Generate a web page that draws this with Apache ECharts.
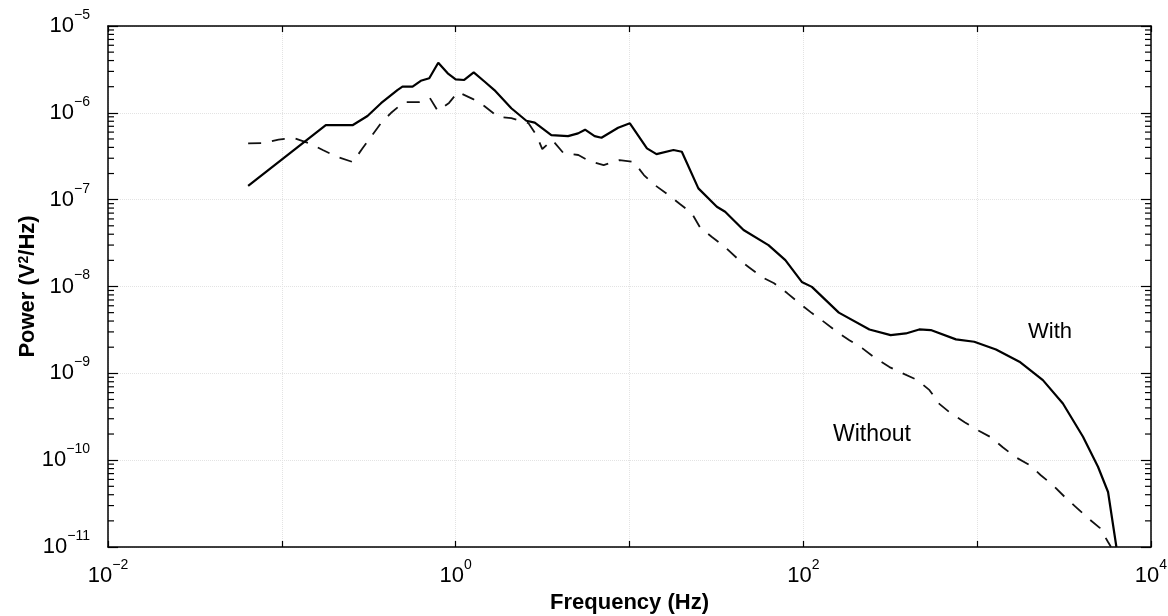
<!DOCTYPE html>
<html><head><meta charset="utf-8">
<script src="https://cdn.jsdelivr.net/npm/echarts@6/dist/echarts.min.js"></script>
<style>html,body{margin:0;padding:0;background:#fff}#c{width:1168px;height:616px}</style>
</head><body><div id="c"></div>
<script>
// ---- data ----
const freqWith = [0.064, 0.179, 0.255, 0.311, 0.372, 0.462, 0.494, 0.565, 0.63, 0.705, 0.794, 0.90, 1.0, 1.12, 1.27, 1.47, 1.67, 2.09, 2.55, 2.85, 3.55, 4.43, 5.06, 5.55, 6.3, 6.9, 8.6, 10.05, 12.6, 14.3, 17.9, 20, 24.9, 31.8, 35.5, 45.3, 63, 78.8, 98, 112, 160, 240, 318, 389, 464, 541, 755, 962, 1283, 1750, 2388, 3113, 4063, 4955, 5662, 6324];
const powWith = [1.44e-7, 7.2e-7, 7.2e-7, 9.2e-7, 1.29e-6, 1.83e-6, 2.0e-6, 2.0e-6, 2.34e-6, 2.5e-6, 3.78e-6, 2.85e-6, 2.43e-6, 2.39e-6, 2.92e-6, 2.28e-6, 1.83e-6, 1.13e-6, 8.1e-7, 7.7e-7, 5.55e-7, 5.4e-7, 5.8e-7, 6.4e-7, 5.4e-7, 5.17e-7, 6.74e-7, 7.57e-7, 3.9e-7, 3.35e-7, 3.73e-7, 3.56e-7, 1.35e-7, 8.3e-8, 7.26e-8, 4.47e-8, 3.0e-8, 2.01e-8, 1.13e-8, 9.9e-9, 5.0e-9, 3.2e-9, 2.75e-9, 2.88e-9, 3.2e-9, 3.15e-9, 2.46e-9, 2.31e-9, 1.88e-9, 1.36e-9, 8.35e-10, 4.5e-10, 1.86e-10, 8.4e-11, 4.3e-11, 1.0e-11];
const freqWithout = [0.064, 0.0775, 0.0957, 0.117, 0.1426, 0.172, 0.2094, 0.256, 0.292, 0.325, 0.372, 0.424, 0.504, 0.615, 0.711, 0.79, 0.916, 1.03, 1.26, 1.46, 1.76, 2.09, 2.62, 2.91, 3.15, 3.6, 4.17, 5.08, 5.89, 7.1, 8.77, 10.6, 12.1, 14.0, 16.8, 19.5, 22.8, 25.4, 29.8, 34.9, 41.5, 48.6, 57.8, 67.9, 80.7, 94.6, 112, 132, 157, 184, 218, 259, 313, 372, 454, 532, 608, 703, 847, 1007, 1197, 1403, 1667, 2009, 2323, 2729, 3199, 3700, 4345, 5093, 5662, 5890];
const powWithout = [4.45e-7, 4.49e-7, 4.92e-7, 5.13e-7, 4.49e-7, 3.73e-7, 3.1e-7, 2.71e-7, 3.93e-7, 5.26e-7, 7.63e-7, 9.95e-7, 1.33e-6, 1.33e-6, 1.48e-6, 1.05e-6, 1.3e-6, 1.74e-6, 1.44e-6, 1.2e-6, 8.95e-7, 8.7e-7, 7.63e-7, 5.55e-7, 3.83e-7, 4.86e-7, 3.44e-7, 3.27e-7, 2.78e-7, 2.5e-7, 2.86e-7, 2.71e-7, 1.92e-7, 1.47e-7, 1.13e-7, 8.9e-8, 7.0e-8, 4.83e-8, 3.71e-8, 2.92e-8, 2.12e-8, 1.67e-8, 1.28e-8, 1.09e-8, 8.4e-9, 6.44e-9, 4.94e-9, 3.89e-9, 2.98e-9, 2.41e-9, 1.95e-9, 1.5e-9, 1.18e-9, 1.0e-9, 8.35e-10, 6.4e-10, 4.42e-10, 3.48e-10, 2.74e-10, 2.22e-10, 1.84e-10, 1.41e-10, 1.08e-10, 8.75e-11, 6.71e-11, 5.15e-11, 3.75e-11, 2.88e-11, 2.15e-11, 1.65e-11, 1.14e-11, 1.0e-11];

// ---- axes / tick labels ----
const xMin = 1e-2, xMax = 1e4;
const yMin = 1e-11, yMax = 1e-5;
const xLabelExponents = [-2, 0, 2, 4];
const yLabelExponents = [-11, -10, -9, -8, -7, -6, -5];
const yMinorMultipliers = [2, 3, 4, 5, 6, 7, 8, 9];
const yMinorTicks = [];
for (let e = -11; e < -5; e++) yMinorMultipliers.forEach(m => yMinorTicks.push(m * Math.pow(10, e)));

const FONT = "'Liberation Sans', Arial, Helvetica, sans-serif";
const supRich = {
  b: { fontSize: 22, lineHeight: 22, fontFamily: FONT, color: '#000', verticalAlign: 'middle' },
  s: { fontSize: 14, lineHeight: 14, padding: [0, 0, 22, 0], fontFamily: FONT, color: '#000', verticalAlign: 'middle' }
};
function expLabel(list) {
  return function (v) {
    const e = Math.round(Math.log10(v));
    if (list.indexOf(e) < 0) return '';
    return '{b|10}{s|' + (e < 0 ? '\u2212' + (-e) : e) + '}';
  };
}

const chart = echarts.init(document.getElementById('c'), null, { renderer: 'canvas' });
const axisLineStyle = { show: true, lineStyle: { color: '#000', width: 1.5 } };
const gridLine = { show: true, lineStyle: { color: '#e3e3e3', type: 'dotted', width: 1 } };

chart.setOption({
  backgroundColor: '#fff',
  animation: false,
  grid: { left: 108, right: 17, top: 26, bottom: 69, containLabel: false, outerBoundsMode: 'none' },
  xAxis: [{
    type: 'log', logBase: 10, min: xMin, max: xMax, splitNumber: 6,
    position: 'bottom',
    axisLine: axisLineStyle,
    axisTick: { show: true, inside: true, length: 6, lineStyle: { color: '#000', width: 1.2 } },
    axisLabel: { show: true, margin: 18, formatter: expLabel(xLabelExponents), rich: supRich },
    splitLine: gridLine,
    name: 'Frequency (Hz)', nameLocation: 'middle', nameGap: 45, nameMoveOverlap: false,
    nameTextStyle: { fontFamily: FONT, fontSize: 22, fontWeight: 'bold', color: '#000' }
  }, {
    type: 'log', logBase: 10, min: xMin, max: xMax, splitNumber: 6,
    position: 'top',
    axisLine: axisLineStyle,
    axisTick: { show: true, inside: true, length: 6, lineStyle: { color: '#000', width: 1.2 } },
    axisLabel: { show: false },
    splitLine: { show: false }
  }],
  yAxis: [{
    type: 'log', logBase: 10, min: yMin, max: yMax, splitNumber: 6,
    position: 'left',
    axisLine: axisLineStyle,
    axisTick: { show: true, inside: true, length: 10, lineStyle: { color: '#000', width: 1.2 } },
    axisLabel: { show: true, margin: 18, formatter: expLabel(yLabelExponents), rich: supRich },
    splitLine: gridLine,
    name: 'Power (V{sup|2}/Hz)', nameLocation: 'middle', nameGap: 69, nameMoveOverlap: false,
    nameTextStyle: {
      fontFamily: FONT, fontSize: 22, fontWeight: 'bold', color: '#000',
      rich: { sup: { fontFamily: FONT, fontSize: 14, fontWeight: 'bold', color: '#000', verticalAlign: 'top', lineHeight: 14, padding: [0, 0, 8, 0] } }
    }
  }, {
    type: 'log', logBase: 10, min: yMin, max: yMax, splitNumber: 6,
    position: 'right',
    axisLine: axisLineStyle,
    axisTick: { show: true, inside: true, length: 10, lineStyle: { color: '#000', width: 1.2 } },
    axisLabel: { show: false },
    splitLine: { show: false }
  }],
  series: [{
    name: 'With', type: 'line', xAxisIndex: 0, yAxisIndex: 0,
    data: freqWith.map((f, i) => [f, powWith[i]]),
    showSymbol: false, symbol: 'none',
    lineStyle: { color: '#000', width: 2.2 }, z: 5
  }, {
    name: 'Without', type: 'line', xAxisIndex: 0, yAxisIndex: 0,
    data: freqWithout.map((f, i) => [f, powWithout[i]]),
    showSymbol: false, symbol: 'none',
    lineStyle: { color: '#111', width: 1.8, type: [13, 11] }, z: 4
  }, {
    name: 'minorTicks', type: 'custom', xAxisIndex: 0, yAxisIndex: 0, silent: true, z: 10,
    data: yMinorTicks.map(v => [xMin, v]),
    encode: { x: 0, y: 1 },
    renderItem: function (params, api) {
      const v = api.value(1);
      const l = api.coord([xMin, v]);
      const r = api.coord([xMax, v]);
      return {
        type: 'group', children: [
          { type: 'line', shape: { x1: l[0], y1: l[1], x2: l[0] + 6, y2: l[1] }, style: { stroke: '#000', lineWidth: 1.2 } },
          { type: 'line', shape: { x1: r[0], y1: r[1], x2: r[0] - 6, y2: r[1] }, style: { stroke: '#000', lineWidth: 1.2 } }
        ]
      };
    }
  }],
  graphic: [
    { type: 'text', left: 1028, top: 321, style: { text: 'With', fontFamily: FONT, fontSize: 22, fill: '#000' } },
    { type: 'text', left: 833, top: 423, style: { text: 'Without', fontFamily: FONT, fontSize: 23, fill: '#000' } }
  ]
});
</script>
</body></html>
